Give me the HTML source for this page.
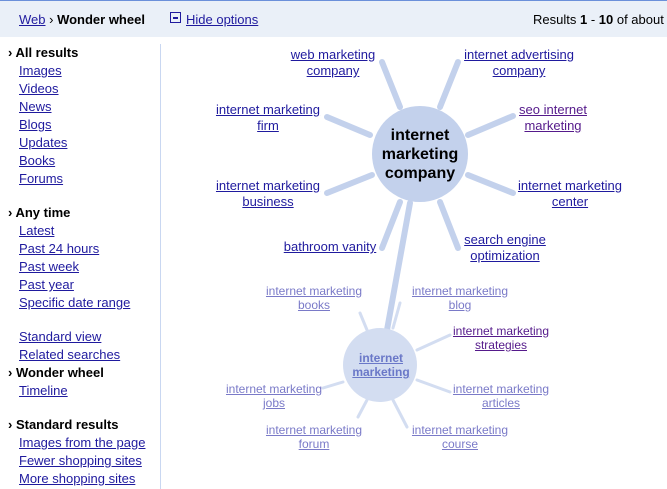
<html><head><style>
body{margin:0;width:667px;height:489px;background:#fff;font-family:"Liberation Sans",Arial,sans-serif;position:relative;overflow:hidden}
a,.l{color:#1f1a9e;text-decoration:underline}
.hdr{position:absolute;left:0;top:0;width:667px;height:36px;background:#eaf0f8;border-top:1px solid #6b90da;font-size:13px}
.sb{position:absolute;left:0;top:44px;font-size:13px;line-height:18px}
.sb div{padding-left:19px;white-space:nowrap}
.sb .h{padding-left:8px;font-weight:bold;color:#000}
.div{position:absolute;left:160px;top:44px;width:1px;height:445px;background:#c9d7f1}
.lb{position:absolute;font-size:13px;line-height:16px;text-align:center;white-space:nowrap;transform:translateX(-50%)}
.sm{font-size:12px;line-height:14px;color:#7a7ac8}
.sm .l{color:#7a7ac8}
</style></head><body>
<div class="hdr">
<span style="position:absolute;left:19px;top:11px"><span class="l">Web</span> › <b>Wonder wheel</b></span>
<span style="position:absolute;left:170px;top:11px;width:11px;height:11px;border:1px solid #1f1a9e;box-sizing:border-box"><span style="position:absolute;left:2px;top:4px;width:5px;height:2px;background:#1f1a9e"></span></span>
<span class="l" style="position:absolute;left:186px;top:11px">Hide options</span>
<span style="position:absolute;left:533px;top:11px">Results <b>1</b> - <b>10</b> of about</span>
</div>
<div class="div"></div>
<div class="sb">
<div class="h">› All results</div>
<div class="l">Images</div><div class="l">Videos</div><div class="l">News</div><div class="l">Blogs</div><div class="l">Updates</div><div class="l">Books</div><div class="l">Forums</div>
<div style="height:16px"></div>
<div class="h">› Any time</div>
<div class="l">Latest</div><div class="l">Past 24 hours</div><div class="l">Past week</div><div class="l">Past year</div><div class="l">Specific date range</div>
<div style="height:16px"></div>
<div class="l">Standard view</div><div class="l">Related searches</div>
<div class="h">› Wonder wheel</div>
<div class="l">Timeline</div>
<div style="height:16px"></div>
<div class="h">› Standard results</div>
<div class="l">Images from the page</div><div class="l">Fewer shopping sites</div><div class="l">More shopping sites</div>
</div>
<svg style="position:absolute;left:0;top:0" width="667" height="489">
<g stroke="#c3d1ec" stroke-width="6" stroke-linecap="round">
<line x1="382" y1="62" x2="400" y2="107"/><line x1="458" y1="62" x2="440" y2="107"/>
<line x1="327" y1="117" x2="370" y2="135"/><line x1="513" y1="116" x2="468" y2="135"/>
<line x1="327" y1="193" x2="372" y2="175"/><line x1="513" y1="193" x2="468" y2="175"/>
<line x1="382" y1="248" x2="400" y2="202"/><line x1="458" y1="248" x2="440" y2="202"/>
<line x1="410" y1="203" x2="387" y2="330"/>
</g>
<g stroke="#d3ddf1" stroke-width="3" stroke-linecap="round">
<line x1="360" y1="313" x2="367" y2="330"/><line x1="400" y1="303" x2="393" y2="328"/>
<line x1="450" y1="335" x2="417" y2="350"/><line x1="323" y1="388" x2="343" y2="382"/>
<line x1="450" y1="392" x2="417" y2="380"/><line x1="367" y1="400" x2="358" y2="417"/>
<line x1="393" y1="400" x2="407" y2="427"/>
</g>
<circle cx="420" cy="154" r="48" fill="#c3d1ec"/>
<circle cx="380" cy="365" r="37" fill="#d3ddf1"/>
</svg>
<div class="lb" style="left:420px;top:126px;font-size:16px;line-height:19px;font-weight:bold;color:#000">internet<br>marketing<br>company</div>
<div class="lb l" style="left:333px;top:47px">web marketing<br>company</div>
<div class="lb l" style="left:519px;top:47px">internet advertising<br>company</div>
<div class="lb l" style="left:268px;top:102px">internet marketing<br>firm</div>
<div class="lb l" style="left:553px;top:102px;color:#551a8b">seo internet<br>marketing</div>
<div class="lb l" style="left:268px;top:178px">internet marketing<br>business</div>
<div class="lb l" style="left:570px;top:178px">internet marketing<br>center</div>
<div class="lb l" style="left:330px;top:239px">bathroom vanity</div>
<div class="lb l" style="left:505px;top:232px">search engine<br>optimization</div>
<div class="lb sm" style="left:381px;top:351px;font-weight:bold"><span class="l" style="color:#6a78c8">internet<br>marketing</span></div>
<div class="lb sm" style="left:314px;top:284px"><span class="l">internet marketing<br>books</span></div>
<div class="lb sm" style="left:460px;top:284px"><span class="l">internet marketing<br>blog</span></div>
<div class="lb sm" style="left:501px;top:324px"><span class="l" style="color:#551a8b">internet marketing<br>strategies</span></div>
<div class="lb sm" style="left:274px;top:382px"><span class="l">internet marketing<br>jobs</span></div>
<div class="lb sm" style="left:501px;top:382px"><span class="l">internet marketing<br>articles</span></div>
<div class="lb sm" style="left:314px;top:423px"><span class="l">internet marketing<br>forum</span></div>
<div class="lb sm" style="left:460px;top:423px"><span class="l">internet marketing<br>course</span></div>
</body></html>
